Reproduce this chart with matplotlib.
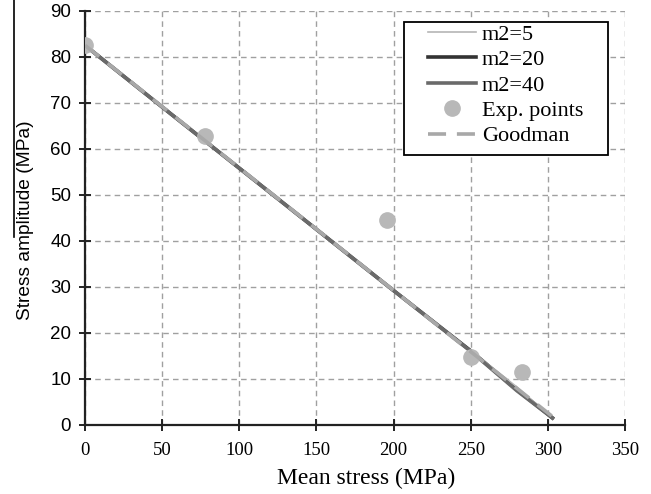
import matplotlib
matplotlib.use("Agg")
import matplotlib.pyplot as plt
from matplotlib.lines import Line2D
from matplotlib.patches import Rectangle

# data
mean_x = [0, 50, 100, 150, 200, 250, 280, 303]
m2_5 = [82.5, 69.2, 55.9, 42.6, 29.3, 16.1, 8.2, 1.5]
m2_20 = [82.5, 69.1, 55.8, 42.5, 29.2, 16.1, 7.6, 1.5]
m2_40 = [82.5, 69.1, 55.8, 42.5, 29.2, 16.0, 7.4, 1.5]
exp_x = [0, 77.5, 195.5, 250.5, 283]
exp_y = [82.5, 62.8, 44.6, 14.8, 11.5]
goodman_x = [0, 303]
goodman_y = [82.5, 1.8]

serif = "Liberation Serif"
sans = "Liberation Sans"

fig = plt.figure(figsize=(6.51, 4.94), dpi=100)
ax = fig.add_axes([0.1306, 0.140, 0.8294, 0.838])

ax.plot(mean_x, m2_5, color="#b5b5b5", lw=1.2, label="m2=5", zorder=4)
ax.plot(mean_x, m2_20, color="#333333", lw=2.6, label="m2=20", zorder=3)
ax.plot(mean_x, m2_40, color="#6a6a6a", lw=2.6, label="m2=40", zorder=4)
ax.plot(exp_x, exp_y, "o", color="#b8b8b8", ms=11, label="Exp. points", zorder=5)
ax.plot(goodman_x, goodman_y, "--", color="#a8a8a8", lw=2.6, dashes=(5, 3),
        label="Goodman", zorder=5)

ax.set_xlim(0, 350)
ax.set_ylim(0, 90)
ax.set_xticks(range(0, 351, 50))
ax.set_yticks(range(0, 91, 10))
ax.grid(True, ls=(0, (4, 3)), color="#a0a0a0", lw=1)
for s in ["top", "right"]:
    ax.spines[s].set_visible(False)
for s in ["left", "bottom"]:
    ax.spines[s].set_linewidth(1.6)
    ax.spines[s].set_color("#222222")
ax.tick_params(direction="inout", length=8, width=1.4, color="#222222")
ax.tick_params(axis="x", pad=8)
ax.tick_params(axis="y", pad=6)
for t in ax.get_xticklabels():
    t.set_fontfamily(serif)
    t.set_fontsize(13.5)
for t in ax.get_yticklabels():
    t.set_fontfamily(sans)
    t.set_fontsize(13.5)

ax.set_xlabel("Mean stress (MPa)", fontfamily=serif, fontsize=17, va="center")
ax.xaxis.set_label_coords(0.52, -0.13)
ax.set_ylabel("Stress amplitude (MPa)", fontfamily=sans, fontsize=13.8, va="center")
ax.yaxis.set_label_coords(-0.11, 0.495)

# legend box drawn by hand (wider left padding than matplotlib gives)
box = Rectangle((0.591, 0.652), 0.3775, 0.321, transform=ax.transAxes,
                facecolor="white", edgecolor="black", lw=1.3, zorder=6,
                clip_on=False)
ax.add_patch(box)
leg = ax.legend(loc="upper left", bbox_to_anchor=(0.635, 0.968), frameon=False,
                prop={"family": serif, "size": 16}, handlelength=2.16,
                handletextpad=0.27, labelspacing=0.22, borderpad=0,
                borderaxespad=0, numpoints=1)
leg.set_zorder(7)

# vertical scan artifact at the left edge
fig.add_artist(Line2D([0.022, 0.022], [1.0, 0.52], color="black", lw=1.2))

fig.savefig("out.png", dpi=100)
